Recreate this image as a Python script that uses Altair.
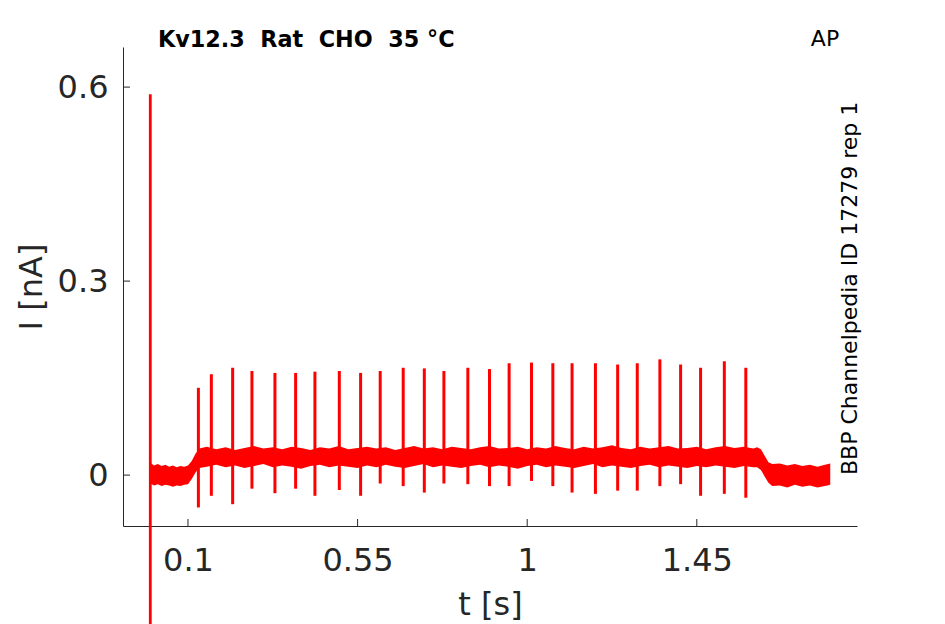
import altair as alt
import pandas as pd

# ---- data ----
# noisy holding-current band: time (s), upper and lower envelope (nA)
env_t = [0.0, 0.01, 0.02, 0.03, 0.04, 0.05, 0.06, 0.07, 0.08, 0.09, 0.10,
         0.11, 0.12, 0.13,
         0.15, 0.175, 0.2, 0.225, 0.25, 0.275, 0.3, 0.325, 0.35, 0.375,
         0.4, 0.425, 0.45, 0.475, 0.5, 0.525, 0.55, 0.575, 0.6, 0.625,
         0.65, 0.675, 0.7, 0.725, 0.75, 0.775, 0.8, 0.825, 0.85, 0.875,
         0.9, 0.925, 0.95, 0.975, 1.0, 1.025, 1.05, 1.075, 1.1, 1.125,
         1.15, 1.175, 1.2, 1.225, 1.25, 1.275, 1.3, 1.325, 1.35, 1.375,
         1.4, 1.425, 1.45, 1.475, 1.5, 1.525, 1.55, 1.575, 1.6,
         1.61, 1.62, 1.63, 1.64, 1.65,
         1.67, 1.69, 1.71, 1.73, 1.75, 1.77, 1.79, 1.804]
env_hi = [0.019, 0.015, 0.017, 0.014, 0.016, 0.013, 0.015, 0.012, 0.014, 0.013, 0.015,
          0.022, 0.033, 0.041,
          0.044, 0.040, 0.043, 0.039, 0.042, 0.045, 0.041, 0.043, 0.040, 0.044,
          0.042, 0.039, 0.043, 0.041, 0.045, 0.040, 0.042, 0.044, 0.041, 0.043,
          0.039, 0.042, 0.045, 0.041, 0.043, 0.040, 0.044, 0.042, 0.040, 0.043,
          0.045, 0.041, 0.042, 0.044, 0.040, 0.043, 0.041, 0.045, 0.042, 0.040,
          0.044, 0.041, 0.043, 0.046, 0.042, 0.040, 0.044, 0.041, 0.043, 0.045,
          0.041, 0.042, 0.044, 0.040, 0.043, 0.045, 0.042, 0.044, 0.041,
          0.043, 0.040, 0.030, 0.020, 0.017,
          0.018, 0.015, 0.017, 0.014, 0.016, 0.013, 0.016, 0.018]
env_lo = [-0.013, -0.016, -0.014, -0.017, -0.015, -0.016, -0.018, -0.016, -0.017, -0.015, -0.014,
          -0.006, 0.004, 0.011,
          0.013, 0.016, 0.012, 0.015, 0.011, 0.014, 0.017, 0.012, 0.015, 0.013,
          0.010, 0.014, 0.016, 0.012, 0.015, 0.013, 0.011, 0.015, 0.012, 0.016,
          0.013, 0.011, 0.014, 0.017, 0.012, 0.015, 0.013, 0.011, 0.014, 0.016,
          0.012, 0.015, 0.013, 0.010, 0.014, 0.016, 0.012, 0.015, 0.013, 0.011,
          0.014, 0.017, 0.012, 0.015, 0.013, 0.011, 0.014, 0.016, 0.012, 0.015,
          0.013, 0.011, 0.014, 0.012, 0.015, 0.013, 0.011, 0.014, 0.012,
          0.012, 0.008, -0.002, -0.012, -0.017,
          -0.016, -0.019, -0.015, -0.018, -0.016, -0.019, -0.017, -0.015]

# action-potential evoked spikes
spike_t = [0.1276, 0.162, 0.2185, 0.2697, 0.3307, 0.3856, 0.4368, 0.5015, 0.558, 0.610,
           0.671, 0.727, 0.779, 0.8425, 0.900, 0.952, 1.0114, 1.068, 1.119, 1.181,
           1.240, 1.292, 1.352, 1.407, 1.460, 1.523, 1.580]
spike_peak = [0.135, 0.156, 0.166, 0.161, 0.158, 0.158, 0.160, 0.161, 0.158, 0.161,
              0.166, 0.165, 0.161, 0.166, 0.164, 0.173, 0.174, 0.173, 0.173, 0.173,
              0.171, 0.173, 0.179, 0.171, 0.166, 0.176, 0.166]
spike_dip = [-0.050, -0.032, -0.045, -0.021, -0.028, -0.021, -0.032, -0.023, -0.032,
             -0.013, -0.017, -0.027, -0.013, -0.014, -0.017, -0.017, -0.009, -0.017,
             -0.027, -0.029, -0.024, -0.024, -0.017, -0.014, -0.032, -0.029, -0.035]

# capacitive transient at t = 0
trans_t = [0.0]
trans_top = [0.589]
trans_bottom = [-0.40]

x_ticks = [0.1, 0.55, 1, 1.45]
y_ticks = [0, 0.3, 0.6]
x_domain = [-0.0724, 1.875]
y_domain = [-0.0787, 0.662]

NB = "\u00a0"
title_text = f"Kv12.3{NB}{NB}Rat{NB}{NB}CHO{NB}{NB}35{NB}°C"
side_text = "BBP Channelpedia ID 17279 rep 1"
corner_text = "AP"

W, H = 734, 479
RED = "#ff0000"
INK = "#262626"

env_df = pd.DataFrame({"t": env_t, "lo": env_lo, "hi": env_hi})
sp_df = pd.DataFrame({"t": spike_t, "i": spike_dip, "i2": spike_peak})
tr_df = pd.DataFrame({"t": trans_t, "i": trans_bottom, "i2": trans_top})
xt_df = pd.DataFrame({"t": x_ticks})
yt_df = pd.DataFrame({"i": y_ticks})
one = pd.DataFrame({"k": [0]})

xs = alt.Scale(domain=x_domain, nice=False, zero=False)
ys = alt.Scale(domain=y_domain, nice=False, zero=False)

x_axis = alt.Axis(values=x_ticks, labelExpr="format(datum.value, '~g')", title="t [s]",
                  ticks=False, labelPadding=19, titlePadding=13, grid=False)
y_axis = alt.Axis(values=y_ticks, labelExpr="format(datum.value, '~g')", title="I [nA]",
                  ticks=False, labelPadding=15, titlePadding=9, grid=False)

band = alt.Chart(env_df).mark_area(color=RED, opacity=1).encode(
    x=alt.X("t:Q", scale=xs, axis=x_axis),
    y=alt.Y("lo:Q", scale=ys, axis=y_axis),
    y2="hi:Q",
)

spikes = alt.Chart(sp_df).mark_rule(color=RED, strokeWidth=3).encode(
    x="t:Q", y=alt.Y("i:Q"), y2="i2:Q"
)

trans = alt.Chart(tr_df).mark_rule(color=RED, strokeWidth=2.8, clip=False).encode(
    x="t:Q", y=alt.Y("i:Q"), y2="i2:Q"
)

xtick = alt.Chart(xt_df).mark_rule(color=INK, strokeWidth=1).encode(
    x="t:Q", y=alt.value(H), y2=alt.value(H - 7)
)
ytick = alt.Chart(yt_df).mark_rule(color=INK, strokeWidth=1).encode(
    y="i:Q", x=alt.value(0), x2=alt.value(7)
)

title = alt.Chart(one).mark_text(
    text=title_text, font="DejaVu Sans", fontWeight="bold", fontSize=22.3,
    align="left", baseline="alphabetic", color="#000000"
).encode(x=alt.value(35), y=alt.value(0))

corner = alt.Chart(one).mark_text(
    text=corner_text, font="DejaVu Sans", fontSize=22,
    align="center", baseline="alphabetic", color="#000000"
).encode(x=alt.value(702), y=alt.value(-1))

side = alt.Chart(one).mark_text(
    text=side_text, font="DejaVu Sans", fontSize=22, angle=270,
    align="left", baseline="alphabetic", color="#000000"
).encode(x=alt.value(734), y=alt.value(428))

chart = alt.layer(band, spikes, trans, xtick, ytick, title, corner, side).properties(
    width=W, height=H,
    autosize=alt.AutoSizeParams(type="none"),
    padding={"left": 115, "top": 39, "right": 72, "bottom": 98},
).configure(font="DejaVu Sans").configure_view(stroke=None).configure_axis(
    domainColor=INK, domainWidth=1, labelColor=INK, titleColor=INK,
    labelFontSize=32, titleFontSize=32, labelFont="DejaVu Sans",
    titleFont="DejaVu Sans", titleFontWeight="normal",
)

chart.save("out.html", embed_options={"renderer": "svg", "actions": False})
